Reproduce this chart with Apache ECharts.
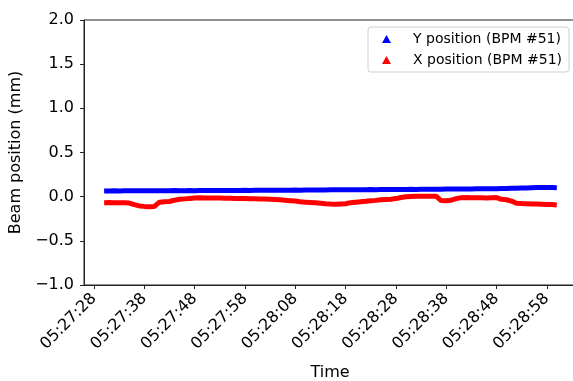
<!DOCTYPE html>
<html>
<head>
<meta charset="utf-8">
<script src="https://cdn.jsdelivr.net/npm/echarts@6/dist/echarts.min.js"></script>
<style>
  html, body { margin: 0; padding: 0; background: #fff; }
  #chart { width: 573px; height: 381px; }
</style>
</head>
<body>
<div id="chart"></div>
<script>
// seconds after 05:27:00, one sample per second
const startSec = 30;
const xTicks = [28, 38, 48, 58, 68, 78, 88, 98, 108, 118];
const yTicks = [-1.0, -0.5, 0.0, 0.5, 1.0, 1.5, 2.0];

// Y position (BPM #51), mm
const yPos = [
  0.064, 0.065, 0.066, 0.065, 0.066, 0.067, 0.066, 0.067, 0.068, 0.067,
  0.068, 0.067, 0.068, 0.068, 0.069, 0.068, 0.068, 0.069, 0.068, 0.069,
  0.070, 0.069, 0.070, 0.070, 0.071, 0.070, 0.071, 0.071, 0.072, 0.071,
  0.072, 0.072, 0.073, 0.072, 0.073, 0.073, 0.074, 0.074, 0.075, 0.074,
  0.075, 0.075, 0.076, 0.076, 0.076, 0.077, 0.077, 0.078, 0.077, 0.078,
  0.078, 0.079, 0.079, 0.080, 0.079, 0.080, 0.080, 0.081, 0.081, 0.082,
  0.082, 0.083, 0.082, 0.083, 0.084, 0.084, 0.085, 0.085, 0.086, 0.086,
  0.087, 0.087, 0.088, 0.088, 0.089, 0.089, 0.090, 0.090, 0.091, 0.092,
  0.093, 0.094, 0.095, 0.097, 0.099, 0.101, 0.103, 0.104, 0.104, 0.103,
  0.102
];

// X position (BPM #51), mm
const xPos = [
  -0.068, -0.067, -0.069, -0.068, -0.070, -0.072, -0.090, -0.105, -0.110, -0.114,
  -0.110, -0.062, -0.058, -0.055, -0.040, -0.030, -0.025, -0.020, -0.015, -0.013,
  -0.014, -0.015, -0.016, -0.016, -0.018, -0.019, -0.020, -0.021, -0.022, -0.023,
  -0.024, -0.026, -0.027, -0.029, -0.031, -0.035, -0.040, -0.045, -0.050, -0.058,
  -0.062, -0.066, -0.070, -0.075, -0.080, -0.083, -0.085, -0.082, -0.080, -0.068,
  -0.062, -0.057, -0.052, -0.046, -0.042, -0.035, -0.031, -0.028, -0.022, -0.010,
  0.000, 0.002, 0.004, 0.005, 0.005, 0.006, 0.005, -0.044, -0.046, -0.040,
  -0.022, -0.011, -0.010, -0.012, -0.013, -0.012, -0.014, -0.012, -0.010, -0.030,
  -0.035, -0.050, -0.074, -0.078, -0.080, -0.082, -0.084, -0.086, -0.088, -0.090,
  -0.094
];

const fontFam = 'DejaVu Sans';

function fmtTime(v) {
  const total = 27 * 60 + Math.round(v);
  const m = Math.floor(total / 60);
  const s = total % 60;
  return '05:' + String(m).padStart(2, '0') + ':' + String(s).padStart(2, '0');
}
function pairs(arr) {
  return arr.map((v, i) => [startSec + i, v]);
}

const chart = echarts.init(document.getElementById('chart'), null, { renderer: 'canvas' });
const option = {
  animation: false,
  backgroundColor: '#fff',
  grid: {
    left: 84, top: 20, width: 492, bottom: 96,
    outerBoundsMode: 'none',
    show: true, borderColor: '#222', borderWidth: 1, backgroundColor: 'transparent'
  },
  legend: {
    orient: 'vertical',
    right: 4, top: 27,
    padding: [4, 7, 4, 14],
    itemGap: 5,
    itemWidth: 9, itemHeight: 8,
    borderColor: '#d0d0d0', borderWidth: 1, borderRadius: 3,
    backgroundColor: '#fff',
    textStyle: { fontFamily: fontFam, fontSize: 14, color: '#000', padding: [0, 0, 0, 17], lineHeight: 16 },
    data: [
      { name: 'Y position (BPM #51)', icon: 'triangle' },
      { name: 'X position (BPM #51)', icon: 'triangle' }
    ]
  },
  xAxis: {
    type: 'value',
    min: 26, max: 26 + 492 / 5.03,
    name: 'Time',
    nameLocation: 'middle', nameGap: 80,
    nameTextStyle: { fontFamily: fontFam, fontSize: 16, color: '#000' },
    axisLine: { onZero: false, lineStyle: { color: '#222', width: 1 } },
    axisTick: { customValues: xTicks, length: 4, lineStyle: { color: '#222' } },
    axisLabel: {
      customValues: xTicks, rotate: 45, margin: 11,
      fontFamily: fontFam, fontSize: 16, color: '#000',
      formatter: fmtTime
    },
    splitLine: { show: false }
  },
  yAxis: {
    type: 'value',
    min: -1, max: 2, interval: 0.5,
    name: 'Beam position (mm)',
    nameLocation: 'middle', nameGap: 52,
    nameTextStyle: { fontFamily: fontFam, fontSize: 16, color: '#000' },
    axisLine: { lineStyle: { color: '#222', width: 1 } },
    axisTick: { length: 4, lineStyle: { color: '#222' } },
    axisLabel: {
      margin: 10, fontFamily: fontFam, fontSize: 16, color: '#000',
      formatter: v => v.toFixed(1).replace('-', '\u2212')
    },
    splitLine: { show: false }
  },
  series: [
    {
      name: 'Y position (BPM #51)',
      type: 'line',
      data: pairs(yPos),
      showSymbol: false,
      symbol: 'triangle',
      color: '#0000ff',
      lineStyle: { width: 5, color: '#0000ff' }
    },
    {
      name: 'X position (BPM #51)',
      type: 'line',
      data: pairs(xPos),
      showSymbol: false,
      symbol: 'triangle',
      color: '#ff0000',
      lineStyle: { width: 5, color: '#ff0000' }
    }
  ]
};
chart.setOption(option);
</script>
</body>
</html>
